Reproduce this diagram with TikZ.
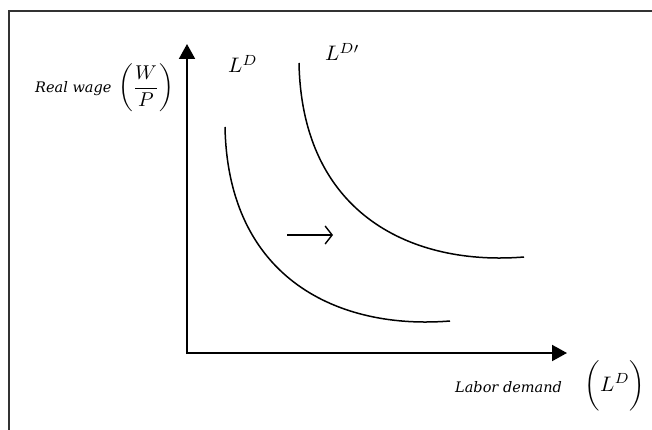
\documentclass[tikz,border=0pt]{standalone}
\usepackage{graphicx}
\usepackage{fontspec}
\setmainfont{Liberation Serif}
\newfontfamily\lblfont{DejaVu Serif}
\usetikzlibrary{arrows.meta}
\begin{document}
\begin{tikzpicture}[x=1pt,y=-1pt,
  frame/.style={draw=black!80,line width=1.4pt},
  axis/.style={draw=black,line width=2pt,-{Triangle[length=15pt,width=16pt]}},
  curve/.style={draw=black,line width=1.5pt},
  shiftarrow/.style={draw=black,line width=1.4pt,-{Straight Barb[length=7pt,width=18pt,line width=1.4pt]}},
  lbl/.style={inner sep=0pt,anchor=base west},
  axtext/.style={inner sep=0pt,anchor=base west,font=\lblfont\itshape\fontsize{14.5}{18}\selectfont}]
\useasboundingbox (0,0) rectangle (652,430);
% frame
\coordinate (fr) at (652,11);
\coordinate (fc) at (9,11);
\coordinate (fb) at (9,430);
\draw[frame] (fr) -- (fc) -- (fb);
% axes
\coordinate (O) at (187,353);
\coordinate (ytop) at (187,44);
\coordinate (xend) at (567,353);
\draw[axis] ([yshift=-1pt]O) -- (ytop);
\draw[axis] ([xshift=-1pt]O) -- (xend);
% curves
\coordinate (a0) at (225,127);
\coordinate (a1) at (450,321);
\draw[curve] (a0) .. controls (228,280) and (340,330) .. (a1);
\coordinate (b0) at (299,63);
\coordinate (b1) at (524,257);
\draw[curve] (b0) .. controls (302,216) and (414,266) .. (b1);
% shift arrow
\coordinate (s0) at (287,235);
\coordinate (s1) at (333,235);
\draw[shiftarrow] (s0) -- (s1);
% labels
\node[lbl] (ld) at (228,73) {\scalebox{2.1}{$L^D$}};
\node[lbl] (ldp) at (325,61) {\scalebox{2.1}{$L^{D\prime}$}};
\node[axtext] (rw) at (35,93) {Real wage};
\node[inner sep=0pt] (rwf) at (146,88) {\scalebox{2}{$\biggl(\displaystyle\frac{W}{P}\biggr)$}};
\node[axtext] (lab) at (455,392) {Labor demand};
\node[inner sep=0pt] (labf) at (615,386) {\scalebox{2.1}{$\biggl(L^D\biggr)$}};
\end{tikzpicture}
\end{document}
